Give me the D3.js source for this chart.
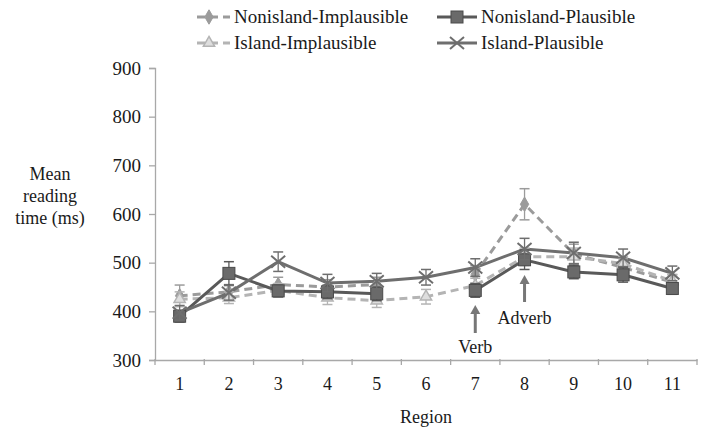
<!DOCTYPE html>
<html lang="en">
<head>
<meta charset="utf-8">
<title>Mean reading time by region</title>
<script src="https://d3js.org/d3.v7.min.js"></script>
<style>
  body { margin: 0; background: #fff; }
  svg text { font-family: "Liberation Serif", "Times New Roman", Times, "DejaVu Serif", serif; fill: #1a1a1a; }
</style>
</head>
<body>
<svg id="chart"></svg>
<script>
// data (null = no value for that region)
const regions = ["1", "2", "3", "4", "5", "6", "7", "8", "9", "10", "11"];
const yTicks = [300, 400, 500, 600, 700, 800, 900];

const nonislandImplausible = [432, 440, 455, 450, 455, null, 476, 620, 518, 490, 460];
const nonislandImplausibleErr = [22, 15, 15, 15, 15, null, 18, 32, 20, 18, 15];
const nonislandPlausible = [390, 478, 442, 440, 436, null, 443, 506, 481, 475, 447];
const nonislandPlausibleErr = [12, 24, 12, 14, 14, null, 14, 20, 14, 15, 12];
const islandImplausible = [425, 428, 443, 428, 422, 430, 453, 512, 512, 498, 462];
const islandImplausibleErr = [15, 12, 14, 14, 14, 15, 15, 18, 18, 15, 14];
const islandPlausible = [397, 438, 502, 458, 462, 470, 490, 528, 520, 510, 478];
const islandPlausibleErr = [15, 15, 20, 18, 16, 16, 18, 22, 22, 18, 15];

const series = [
  {name: "Nonisland-Implausible", values: nonislandImplausible, err: nonislandImplausibleErr,
   color: "#9b9b9b", dash: "8,5", marker: "diamond"},
  {name: "Island-Implausible", values: islandImplausible, err: islandImplausibleErr,
   color: "#b4b4b4", dash: "8,5", marker: "triangle"},
  {name: "Nonisland-Plausible", values: nonislandPlausible, err: nonislandPlausibleErr,
   color: "#595959", dash: null, marker: "square"},
  {name: "Island-Plausible", values: islandPlausible, err: islandPlausibleErr,
   color: "#6e6e6e", dash: null, marker: "cross"}
];

const W = 702, H = 430;
const margin = {left: 155, right: 5, top: 68, bottom: 70};
const serif = '"Liberation Serif", "Times New Roman", Times, serif';

const svg = d3.select("#chart").attr("width", W).attr("height", H);

const x = d3.scaleBand().domain(regions).range([margin.left, W - margin.right]);
const y = d3.scaleLinear().domain([300, 900]).range([H - margin.bottom, margin.top]);

// y axis
const yAxis = svg.append("g")
  .attr("transform", `translate(${margin.left},0)`)
  .call(d3.axisLeft(y).tickValues(yTicks).tickSize(6).tickPadding(8));
yAxis.select(".domain").attr("stroke", "#a8a8a8").attr("stroke-width", 1.3);
yAxis.selectAll(".tick line").attr("stroke", "#a8a8a8").attr("stroke-width", 1.3);
yAxis.selectAll("text").attr("font-size", 19).style("font-family", serif).attr("fill", "#1a1a1a");

// x axis: ticks sit on band edges
const xAxis = svg.append("g")
  .attr("transform", `translate(0,${y(300)})`)
  .call(d3.axisBottom(x).tickSize(0).tickPadding(17));
xAxis.select(".domain").attr("stroke", "#a8a8a8").attr("stroke-width", 1.3);
xAxis.selectAll("text").attr("font-size", 18).style("font-family", serif).attr("fill", "#1a1a1a");
xAxis.selectAll(".edge")
  .data(regions.map((r, i) => i).concat([regions.length]))
  .enter().append("line")
  .attr("x1", i => margin.left + i * x.step())
  .attr("x2", i => margin.left + i * x.step())
  .attr("y1", -1).attr("y2", 5)
  .attr("stroke", "#a8a8a8").attr("stroke-width", 1.3);

// axis titles
svg.append("text")
  .attr("x", 50).attr("text-anchor", "middle").attr("font-size", 18)
  .selectAll("tspan")
  .data(["Mean", "reading", "time (ms)"])
  .enter().append("tspan")
  .attr("x", 50)
  .attr("y", (d, i) => 180 + i * 22)
  .text(d => d);

svg.append("text")
  .attr("x", (margin.left + W - margin.right) / 2)
  .attr("y", 423)
  .attr("text-anchor", "middle").attr("font-size", 18)
  .text("Region");

const cx = i => x(regions[i]) + x.bandwidth() / 2;

function drawMarker(g, type, color, px, py) {
  if (type === "diamond") {
    g.append("path").attr("d", d3.symbol(d3.symbolDiamond, 60)())
      .attr("transform", `translate(${px},${py})`)
      .attr("fill", color).attr("stroke", color);
  } else if (type === "square") {
    g.append("rect").attr("x", px - 6).attr("y", py - 6).attr("width", 12).attr("height", 12)
      .attr("fill", "#6a6a6a").attr("stroke", "#4a4a4a").attr("stroke-width", 1);
  } else if (type === "triangle") {
    g.append("path").attr("d", d3.symbol(d3.symbolTriangle, 55)())
      .attr("transform", `translate(${px},${py})`)
      .attr("fill", "#dedede").attr("stroke", color).attr("stroke-width", 1.5);
  } else if (type === "cross") {
    g.append("path").attr("d", `M${px - 7},${py - 6}L${px + 7},${py + 6}M${px - 7},${py + 6}L${px + 7},${py - 6}`)
      .attr("stroke", color).attr("stroke-width", 2);
  }
}

const plot = svg.append("g");

// lines (gaps where a region has no value)
series.forEach(s => {
  const line = d3.line()
    .defined(d => d != null)
    .x((d, i) => cx(i))
    .y(d => y(d));
  plot.append("path")
    .datum(s.values)
    .attr("fill", "none")
    .attr("stroke", s.color)
    .attr("stroke-width", 3)
    .attr("stroke-dasharray", s.dash)
    .attr("d", line);
});

// error bars and markers
series.forEach(s => {
  const g = plot.append("g");
  s.values.forEach((v, i) => {
    if (v == null) return;
    const e = s.err[i];
    const px = cx(i);
    g.append("line").attr("x1", px).attr("x2", px).attr("y1", y(v - e)).attr("y2", y(v + e))
      .attr("stroke", s.color).attr("stroke-width", 1.3);
    [v - e, v + e].forEach(t => {
      g.append("line").attr("x1", px - 5).attr("x2", px + 5).attr("y1", y(t)).attr("y2", y(t))
        .attr("stroke", s.color).attr("stroke-width", 1.5);
    });
    drawMarker(g, s.marker, s.color, px, y(v));
  });
});

// annotations
const notes = [
  {label: "Verb", region: "7", tip: 305, base: 333, text: 353},
  {label: "Adverb", region: "8", tip: 275, base: 302, text: 324}
];
notes.forEach(n => {
  const px = x(n.region) + x.bandwidth() / 2;
  svg.append("line").attr("x1", px).attr("x2", px).attr("y1", n.tip + 6).attr("y2", n.base)
    .attr("stroke", "#777").attr("stroke-width", 3);
  svg.append("path").attr("d", `M${px},${n.tip}L${px - 5},${n.tip + 9}L${px + 5},${n.tip + 9}Z`)
    .attr("fill", "#777");
  svg.append("text").attr("x", px).attr("y", n.text).attr("text-anchor", "middle")
    .attr("font-size", 18).style("font-family", serif).text(n.label);
});

// legend
const legendItems = [
  {s: series[0], lx: 197, ly: 17},
  {s: series[2], lx: 437, ly: 17},
  {s: series[1], lx: 197, ly: 43},
  {s: series[3], lx: 437, ly: 43}
];
legendItems.forEach(it => {
  const g = svg.append("g");
  const len = it.s.dash ? 33 : 40;
  g.append("line").attr("x1", it.lx).attr("x2", it.lx + len).attr("y1", it.ly).attr("y2", it.ly)
    .attr("stroke", it.s.color).attr("stroke-width", 3).attr("stroke-dasharray", it.s.dash);
  drawMarker(g, it.s.marker, it.s.color, it.lx + (it.s.dash ? 12 : 20), it.ly);
  g.append("text").attr("x", it.lx + len + 4).attr("y", it.ly + 6)
    .attr("font-size", 19).style("font-family", serif).text(it.s.name);
});
</script>
</body>
</html>
